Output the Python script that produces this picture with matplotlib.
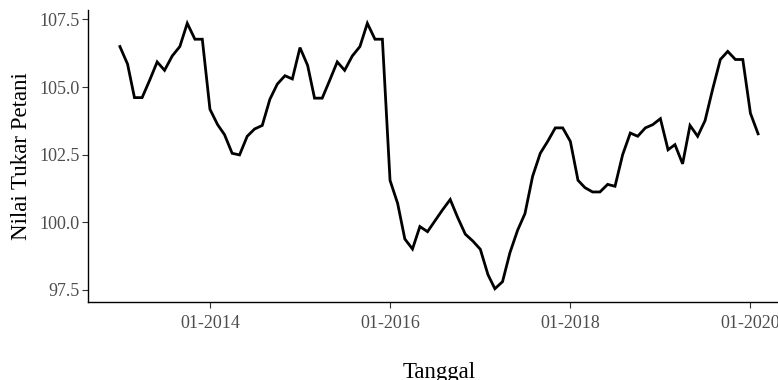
import matplotlib
matplotlib.use("Agg")
import matplotlib.pyplot as plt
import matplotlib.dates as mdates
import pandas as pd

# Monthly farmer exchange rate (NTP), Jan 2013 - Feb 2020
dates = pd.date_range("2013-01-01", "2020-02-01", freq="MS")
ntp_2013 = [106.50, 105.85, 104.61, 104.61, 105.24, 105.93, 105.62, 106.15, 106.50, 107.36, 106.77, 106.77]
ntp_2014 = [104.18, 103.61, 103.24, 102.55, 102.49, 103.18, 103.45, 103.58, 104.55, 105.11, 105.42, 105.30]
ntp_2015 = [106.46, 105.80, 104.59, 104.59, 105.24, 105.93, 105.62, 106.15, 106.50, 107.36, 106.77, 106.77]
ntp_2016 = [101.55, 100.69, 99.38, 99.01, 99.84, 99.65, 100.05, 100.46, 100.84, 100.18, 99.56, 99.31]
ntp_2017 = [99.00, 98.06, 97.54, 97.80, 98.87, 99.70, 100.32, 101.70, 102.55, 102.99, 103.49, 103.49]
ntp_2018 = [102.99, 101.55, 101.28, 101.12, 101.12, 101.40, 101.33, 102.50, 103.30, 103.18, 103.49, 103.61]
ntp_2019 = [103.83, 102.68, 102.87, 102.16, 103.58, 103.18, 103.76, 104.93, 106.02, 106.32, 106.02, 106.02]
ntp_2020 = [104.03, 103.27]
ntp = ntp_2013 + ntp_2014 + ntp_2015 + ntp_2016 + ntp_2017 + ntp_2018 + ntp_2019 + ntp_2020

yticks = [97.5, 100.0, 102.5, 105.0, 107.5]
xticks = pd.to_datetime(["2014-01-01", "2016-01-01", "2018-01-01", "2020-01-01"])

plt.rcParams["font.family"] = ["Liberation Serif", "DejaVu Serif"]

fig = plt.figure(figsize=(7.78, 3.8), dpi=100)
# plot panel runs slightly past the right edge, as in the cropped original
ax = fig.add_axes([88 / 778, 78 / 380, (790 - 88) / 778, 292 / 380])

ax.plot(dates, ntp, color="black", linewidth=2.0, solid_joinstyle="miter")
ax.margins(x=0.05, y=0.05)

ax.set_yticks(yticks)
ax.set_yticklabels([f"{v:.1f}" for v in yticks])
ax.set_xticks(xticks)
ax.xaxis.set_major_formatter(mdates.DateFormatter("%m-%Y"))

for side in ("top", "right"):
    ax.spines[side].set_visible(False)
for side in ("left", "bottom"):
    ax.spines[side].set_linewidth(1.0)
    ax.spines[side].set_color("black")

ax.tick_params(axis="both", length=4, width=0.8, color="#333333",
               labelsize=13, labelcolor="#4d4d4d", pad=2)
ax.tick_params(axis="x", pad=5)

ax.set_xlabel("Tanggal", fontsize=16.5, labelpad=22)
ax.set_ylabel("Nilai Tukar Petani", fontsize=16.5, labelpad=5)

fig.savefig("out.png", dpi=100, facecolor="#ffffff")
plt.close(fig)
